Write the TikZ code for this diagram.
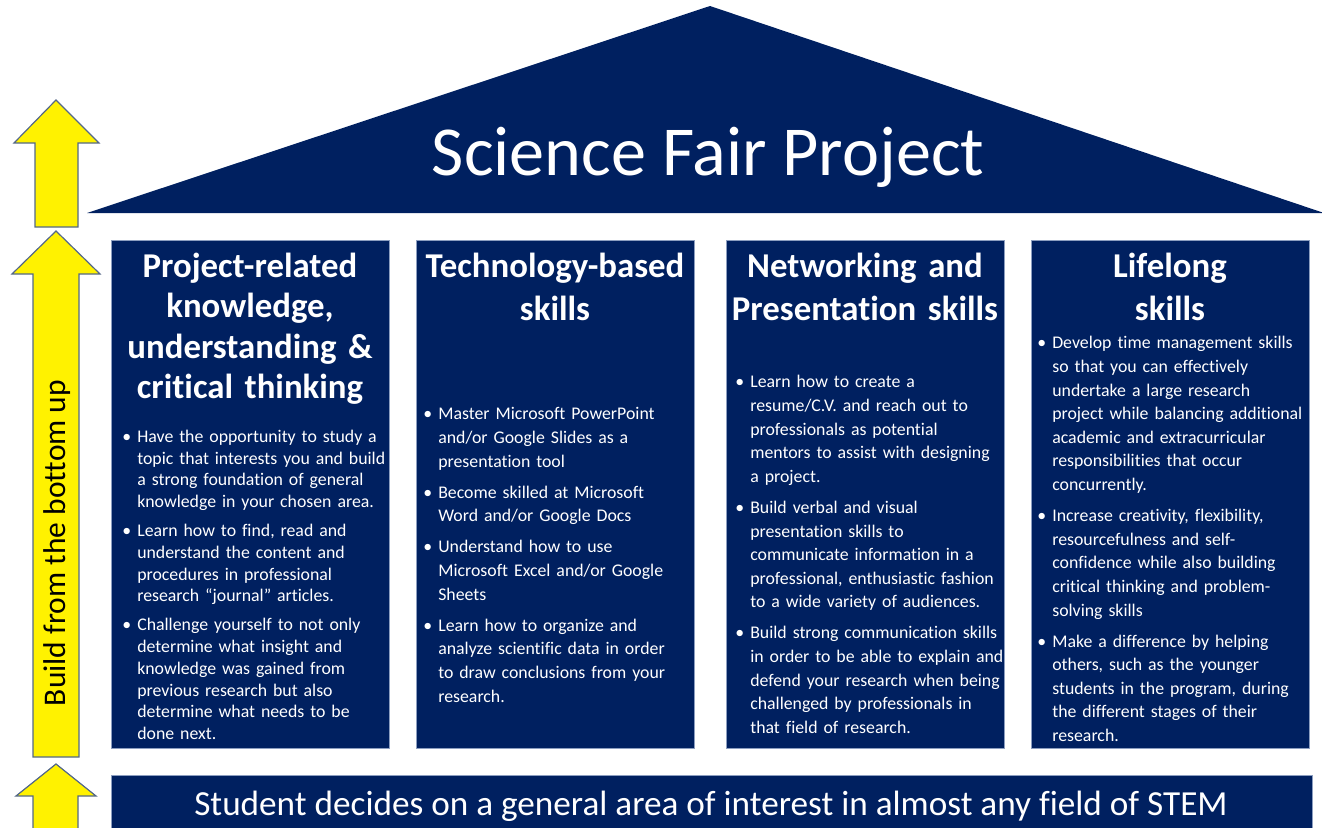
\documentclass[tikz,border=0pt]{standalone}
\usepackage{fontspec}
\setmainfont[Ligatures=NoCommon]{Carlito}
\definecolor{navy}{RGB}{0,32,96}
\definecolor{cardline}{RGB}{140,158,192}
\definecolor{arrowline}{RGB}{84,104,136}
\newlength{\itemgap}
\setlength{\itemgap}{7.5pt}
% one bullet point, lines broken by hand with \newline
\newcommand{\bitem}[1]{\hangindent=15pt\hangafter=1\noindent\makebox[15pt][l]{\textbullet}#1\par\vspace{\itemgap}}

\begin{document}
\begin{tikzpicture}[x=1pt,y=-1pt,
    card/.style={draw=cardline,line width=0.8pt,fill=navy,minimum width=278pt,minimum height=508pt,inner sep=0pt},
    cardtitle/.style={text=white,font=\fontsize{34.8}{43}\selectfont\bfseries,text width=276pt,align=center,anchor=base,inner sep=0pt},
    cardtext/.style={text=white,font=\fontsize{17.8}{23.6}\selectfont,text width=290pt,align=left,anchor=base west,inner sep=0pt},
    uparrow/.style={draw=arrowline,line width=1.2pt,fill=yellow,line join=miter}]

\useasboundingbox (0,0) rectangle (1322,827);

% roof
\fill[navy] (87,213) -- (710,6) -- (1324,213) -- cycle;
\node[text=white,font=\fontsize{70.2}{80}\selectfont,anchor=base,inner sep=0pt] (roof) at (708,175) {Science Fair Project};

% arrows on the left
\draw[uparrow] (56,100) -- (99,143) -- (78,143) -- (78,227) -- (35,227) -- (35,143) -- (14,143) -- cycle;
\draw[uparrow] (56,231) -- (100,274) -- (79,274) -- (79,757) -- (33,757) -- (33,274) -- (12,274) -- cycle;
\draw[uparrow] (56,764) -- (96,796) -- (78,796) -- (78,832) -- (33,832) -- (33,796) -- (16,796) -- cycle;
\node[rotate=90,font=\fontsize{31.5}{36}\selectfont,inner sep=0pt] (buildup) at (57,543) {Build from the bottom up};

% pillars
\node[card] (c1) at (250,494) {};
\node[card] (c2) at (555,494) {};
\node[card] (c3) at (865,494) {};
\node[card] (c4) at (1170,494) {};

\node[cardtitle,font=\fontsize{34.8}{40.5}\selectfont\bfseries] (t1) at ([yshift=-37.5pt]c1.north) {Project-related\\knowledge,\\understanding \&\\critical thinking};
\node[cardtitle] (t2) at ([yshift=-37.5pt]c2.north) {Technology-based\\skills};
\node[cardtitle] (t3) at ([yshift=-37.5pt]c3.north) {Networking and\\Presentation skills};
\node[cardtitle] (t4) at ([yshift=-37.5pt]c4.north) {Lifelong\\skills};

\node[cardtext,font=\fontsize{17.8}{21.7}\selectfont] (b1) at ([xshift=11.5pt,yshift=-202.7pt]c1.north west) {%
\bitem{Have the opportunity to study a\newline topic that interests you and build\newline a strong foundation of general\newline knowledge in your chosen area.}
\bitem{Learn how to find, read and\newline understand the content and\newline procedures in professional\newline research “journal” articles.}
\bitem{Challenge yourself to not only\newline determine what insight and\newline knowledge was gained from\newline previous research but also\newline determine what needs to be\newline done next.}};

\node[cardtext] (b2) at ([xshift=7.5pt,yshift=-180.3pt]c2.north west) {%
\bitem{Master Microsoft PowerPoint\newline and/or Google Slides as a\newline presentation tool}
\bitem{Become skilled at Microsoft\newline Word and/or Google Docs}
\bitem{Understand how to use\newline Microsoft Excel and/or Google\newline Sheets}
\bitem{Learn how to organize and\newline analyze scientific data in order\newline to draw conclusions from your\newline research.}};

\node[cardtext] (b3) at ([xshift=9.5pt,yshift=-148.3pt]c3.north west) {%
\bitem{Learn how to create a\newline resume/C.V. and reach out to\newline professionals as potential\newline mentors to assist with designing\newline a project.}
\bitem{Build verbal and visual\newline presentation skills to\newline communicate information in a\newline professional, enthusiastic fashion\newline to a wide variety of audiences.}
\bitem{Build strong communication skills\newline in order to be able to explain and\newline defend your research when being\newline challenged by professionals in\newline that field of research.}};

\node[cardtext] (b4) at ([xshift=6.5pt,yshift=-109.3pt]c4.north west) {%
\bitem{Develop time management skills\newline so that you can effectively\newline undertake a large research\newline project while balancing additional\newline academic and extracurricular\newline responsibilities that occur\newline concurrently.}
\bitem{Increase creativity, flexibility,\newline resourcefulness and self-\newline confidence while also building\newline critical thinking and problem-\newline solving skills}
\bitem{Make a difference by helping\newline others, such as the younger\newline students in the program, during\newline the different stages of their\newline research.}};

% foundation
\node[card,minimum width=1201pt,minimum height=56pt,anchor=north west] (base) at (111,775) {};
\node[text=white,font=\fontsize{35.2}{40}\selectfont,anchor=base,inner sep=0pt] (basetext) at (711,815) {Student decides on a general area of interest in almost any field of STEM};

\end{tikzpicture}
\end{document}
